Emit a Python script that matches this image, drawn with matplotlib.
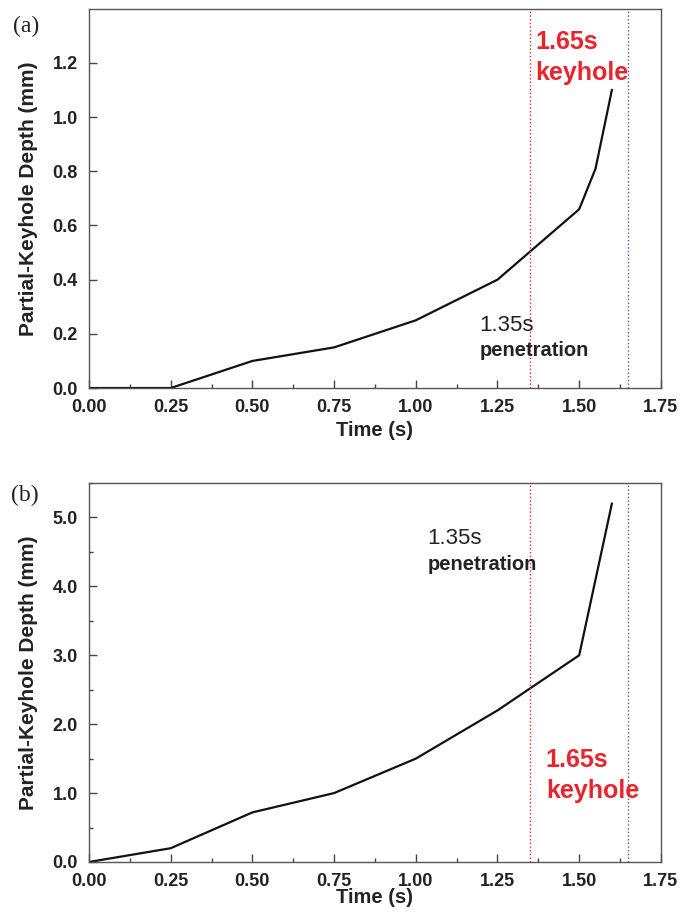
import numpy as np
import matplotlib.pyplot as plt
from matplotlib.ticker import MultipleLocator

plt.rcParams['font.family'] = ['Liberation Sans', 'DejaVu Sans']

time_a = [0.0, 0.25, 0.50, 0.75, 1.00, 1.25, 1.50, 1.55, 1.60]
depth_a = [0.0, 0.0, 0.10, 0.15, 0.25, 0.40, 0.66, 0.81, 1.10]

time_b = [0.0, 0.25, 0.50, 0.75, 1.00, 1.25, 1.50, 1.60]
depth_b = [0.0, 0.20, 0.72, 1.00, 1.50, 2.20, 3.00, 5.20]

t_penetration = 1.35
t_keyhole = 1.65
xticks = [0.00, 0.25, 0.50, 0.75, 1.00, 1.25, 1.50, 1.75]

fig = plt.figure(figsize=(6.8, 9.23), dpi=100)
ax1 = fig.add_axes([0.1309, 0.5796, 0.841, 0.4106])
ax2 = fig.add_axes([0.1309, 0.0661, 0.841, 0.4106])

txt = '#222222'
red = '#e8242c'


def style(ax, ylim, ymajor, yminor, xlab_y):
    ax.set_xlim(0, 1.75)
    ax.set_ylim(*ylim)
    ax.set_xticks(xticks)
    ax.set_xticklabels(['%.2f' % v for v in xticks])
    ax.xaxis.set_minor_locator(MultipleLocator(0.125))
    ax.yaxis.set_major_locator(MultipleLocator(ymajor))
    if yminor:
        ax.yaxis.set_minor_locator(MultipleLocator(yminor))
    ax.yaxis.set_major_formatter(plt.FormatStrFormatter('%.1f'))
    ax.tick_params(which='major', direction='in', length=6, width=1,
                   labelsize=13, color='#444444', pad=8)
    ax.tick_params(which='minor', direction='in', length=3, width=1,
                   color='#444444')
    for lab in ax.get_xticklabels() + ax.get_yticklabels():
        lab.set_fontweight('bold')
        lab.set_color(txt)
    for sp in ax.spines.values():
        sp.set_color('#555555')
        sp.set_linewidth(1.0)
    ax.set_xlabel('Time (s)', fontsize=14.5, fontweight='bold', color=txt, va='center')
    ax.xaxis.set_label_coords(0.5, xlab_y)
    ax.set_ylabel('Partial-Keyhole Depth (mm)', fontsize=15, fontweight='bold',
                  color=txt, va='center')
    ax.yaxis.set_label_coords(-0.106, 0.5)
    ax.axvline(t_penetration, color=red, linestyle=':', linewidth=1.0)
    ax.axvline(t_keyhole, color='#5555aa', linestyle=':', linewidth=1.0)


ax1.plot(time_a, depth_a, color='#111111', linewidth=1.6)
style(ax1, (0, 1.399), 0.2, None, -0.111)
ax1.text(1.365, 1.251, '1.65s', color=red, fontsize=18, fontweight='bold',
         va='baseline', ha='left')
ax1.text(1.365, 1.137, 'keyhole', color=red, fontsize=18, fontweight='bold',
         va='baseline', ha='left')
ax1.text(1.195, 0.210, '1.35s', color=txt, fontsize=16, va='baseline', ha='left')
ax1.text(1.195, 0.118, 'penetration', color=txt, fontsize=14.5,
         fontweight='bold', va='baseline', ha='left')

ax2.plot(time_b, depth_b, color='#111111', linewidth=1.6)
style(ax2, (0, 5.5), 1.0, 0.5, -0.094)
ax2.text(1.398, 1.374, '1.65s', color=red, fontsize=18, fontweight='bold',
         va='baseline', ha='left')
ax2.text(1.398, 0.924, 'keyhole', color=red, fontsize=18, fontweight='bold',
         va='baseline', ha='left')
ax2.text(1.036, 4.615, '1.35s', color=txt, fontsize=16, va='baseline', ha='left')
ax2.text(1.036, 4.238, 'penetration', color=txt, fontsize=14.5,
         fontweight='bold', va='baseline', ha='left')

fig.text(26.5 / 680, 1 - 26 / 923, '(a)', fontsize=17, family='Liberation Serif',
         va='center', ha='center', color=txt)
fig.text(24.5 / 680, 1 - 495 / 923, '(b)', fontsize=17, family='Liberation Serif',
         va='center', ha='center', color=txt)

fig.savefig('out.png', dpi=100)
